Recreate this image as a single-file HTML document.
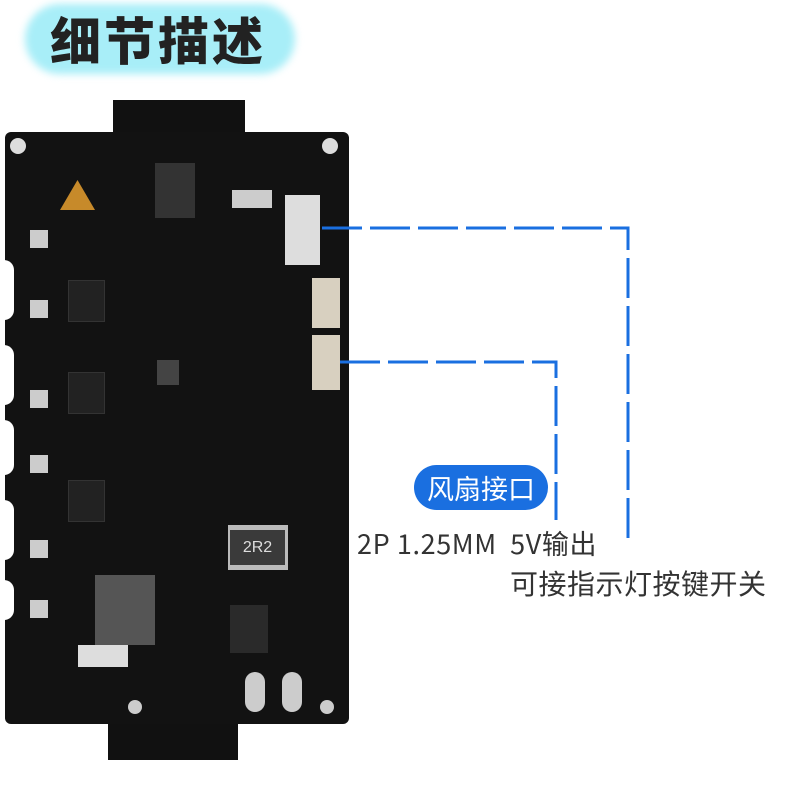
<!DOCTYPE html>
<html><head><meta charset="utf-8"><style>
body{margin:0;width:800px;height:786px;background:#fff;position:relative;overflow:hidden;font-family:"Liberation Sans","Noto Sans CJK SC",sans-serif}
.a{position:absolute}
.w{position:absolute;background:#e8e8e8}
</style></head><body>
<div class="a" style="left:25px;top:4px;width:270px;height:70px;border-radius:35px;background:#a8eef8;filter:blur(4px)"></div>
<div class="a" style="left:50px;top:4px;font-size:51px;font-weight:900;color:#222;letter-spacing:3px;font-family:'Noto Sans CJK SC',sans-serif;line-height:68px">细节描述</div>

<div class="a" style="left:113px;top:100px;width:132px;height:40px;background:#111"></div>
<div class="a" style="left:108px;top:715px;width:130px;height:45px;background:#111"></div>
<div class="a" style="left:5px;top:132px;width:344px;height:592px;background:#121212;border-radius:6px"></div>
<div class="a" style="left:0;top:260px;width:14px;height:60px;background:#fff;border-radius:0 10px 10px 0"></div>
<div class="a" style="left:0;top:345px;width:14px;height:60px;background:#fff;border-radius:0 10px 10px 0"></div>
<div class="a" style="left:0;top:420px;width:14px;height:55px;background:#fff;border-radius:0 10px 10px 0"></div>
<div class="a" style="left:0;top:500px;width:14px;height:60px;background:#fff;border-radius:0 10px 10px 0"></div>
<div class="a" style="left:0;top:580px;width:14px;height:40px;background:#fff;border-radius:0 10px 10px 0"></div>
<div class="a" style="left:10px;top:138px;width:16px;height:16px;border-radius:50%;background:#ddd"></div>
<div class="a" style="left:322px;top:138px;width:16px;height:16px;border-radius:50%;background:#ddd"></div>
<div class="a" style="left:128px;top:700px;width:14px;height:14px;border-radius:50%;background:#ccc"></div>
<div class="a" style="left:320px;top:700px;width:14px;height:14px;border-radius:50%;background:#ccc"></div>
<div class="a" style="left:155px;top:163px;width:40px;height:55px;background:#333"></div>
<div class="w" style="left:285px;top:195px;width:35px;height:70px;background:#ddd"></div>
<div class="w" style="left:312px;top:278px;width:28px;height:50px;background:#d8d0c0"></div>
<div class="w" style="left:312px;top:335px;width:28px;height:55px;background:#d8d0c0"></div>
<div class="w" style="left:228px;top:525px;width:60px;height:45px;background:#bbb"></div>
<div class="a" style="left:230px;top:530px;width:55px;height:35px;background:#3a3a3a;color:#ddd;font-size:16px;text-align:center;line-height:35px">2R2</div>
<div class="a" style="left:95px;top:575px;width:60px;height:70px;background:#555"></div>
<div class="a" style="left:68px;top:280px;width:35px;height:40px;background:#222;border:1px solid #333"></div>
<div class="a" style="left:68px;top:372px;width:35px;height:40px;background:#222;border:1px solid #333"></div>
<div class="a" style="left:68px;top:480px;width:35px;height:40px;background:#222;border:1px solid #333"></div>
<div class="a" style="left:230px;top:605px;width:38px;height:48px;background:#2a2a2a"></div>
<div class="a" style="left:157px;top:360px;width:22px;height:25px;background:#444"></div>
<div class="w" style="left:60px;top:180px;width:35px;height:30px;background:#c78a2a;clip-path:polygon(50% 0,100% 100%,0 100%)"></div>
<div class="w" style="left:245px;top:672px;width:20px;height:40px;border-radius:10px;background:#ccc"></div>
<div class="w" style="left:282px;top:672px;width:20px;height:40px;border-radius:10px;background:#ccc"></div>
<div class="w" style="left:78px;top:645px;width:50px;height:22px;background:#ddd"></div>
<div class="w" style="left:232px;top:190px;width:40px;height:18px;background:#ccc"></div>
<div class="w" style="left:30px;top:230px;width:18px;height:18px;background:#ccc"></div>
<div class="w" style="left:30px;top:300px;width:18px;height:18px;background:#ccc"></div>
<div class="w" style="left:30px;top:390px;width:18px;height:18px;background:#ccc"></div>
<div class="w" style="left:30px;top:455px;width:18px;height:18px;background:#ccc"></div>
<div class="w" style="left:30px;top:540px;width:18px;height:18px;background:#ccc"></div>
<div class="w" style="left:30px;top:600px;width:18px;height:18px;background:#ccc"></div>

<svg class="a" style="left:0;top:0" width="800" height="786">
<g stroke="#1a6fe0" stroke-width="3" fill="none" stroke-dasharray="40 8">
<path d="M322 228 H628 V545"/>
<path d="M340 362 H556 V520"/>
</g></svg>

<div class="a" style="left:414px;top:465px;width:134px;height:45px;border-radius:23px;background:#1a6fe0;color:#fff;font-size:27px;line-height:45px;text-align:center;font-family:'Noto Sans CJK SC',sans-serif">风扇接口</div>
<div class="a" style="left:357px;top:524px;font-size:27px;letter-spacing:0.6px;color:#333;line-height:38px;font-family:'Noto Sans CJK SC',sans-serif">2P 1.25MM&nbsp; 5V输出</div>
<div class="a" style="left:510px;top:563px;font-size:28px;letter-spacing:0.5px;color:#333;line-height:40px;font-family:'Noto Sans CJK SC',sans-serif">可接指示灯按键开关</div>
</body></html>
